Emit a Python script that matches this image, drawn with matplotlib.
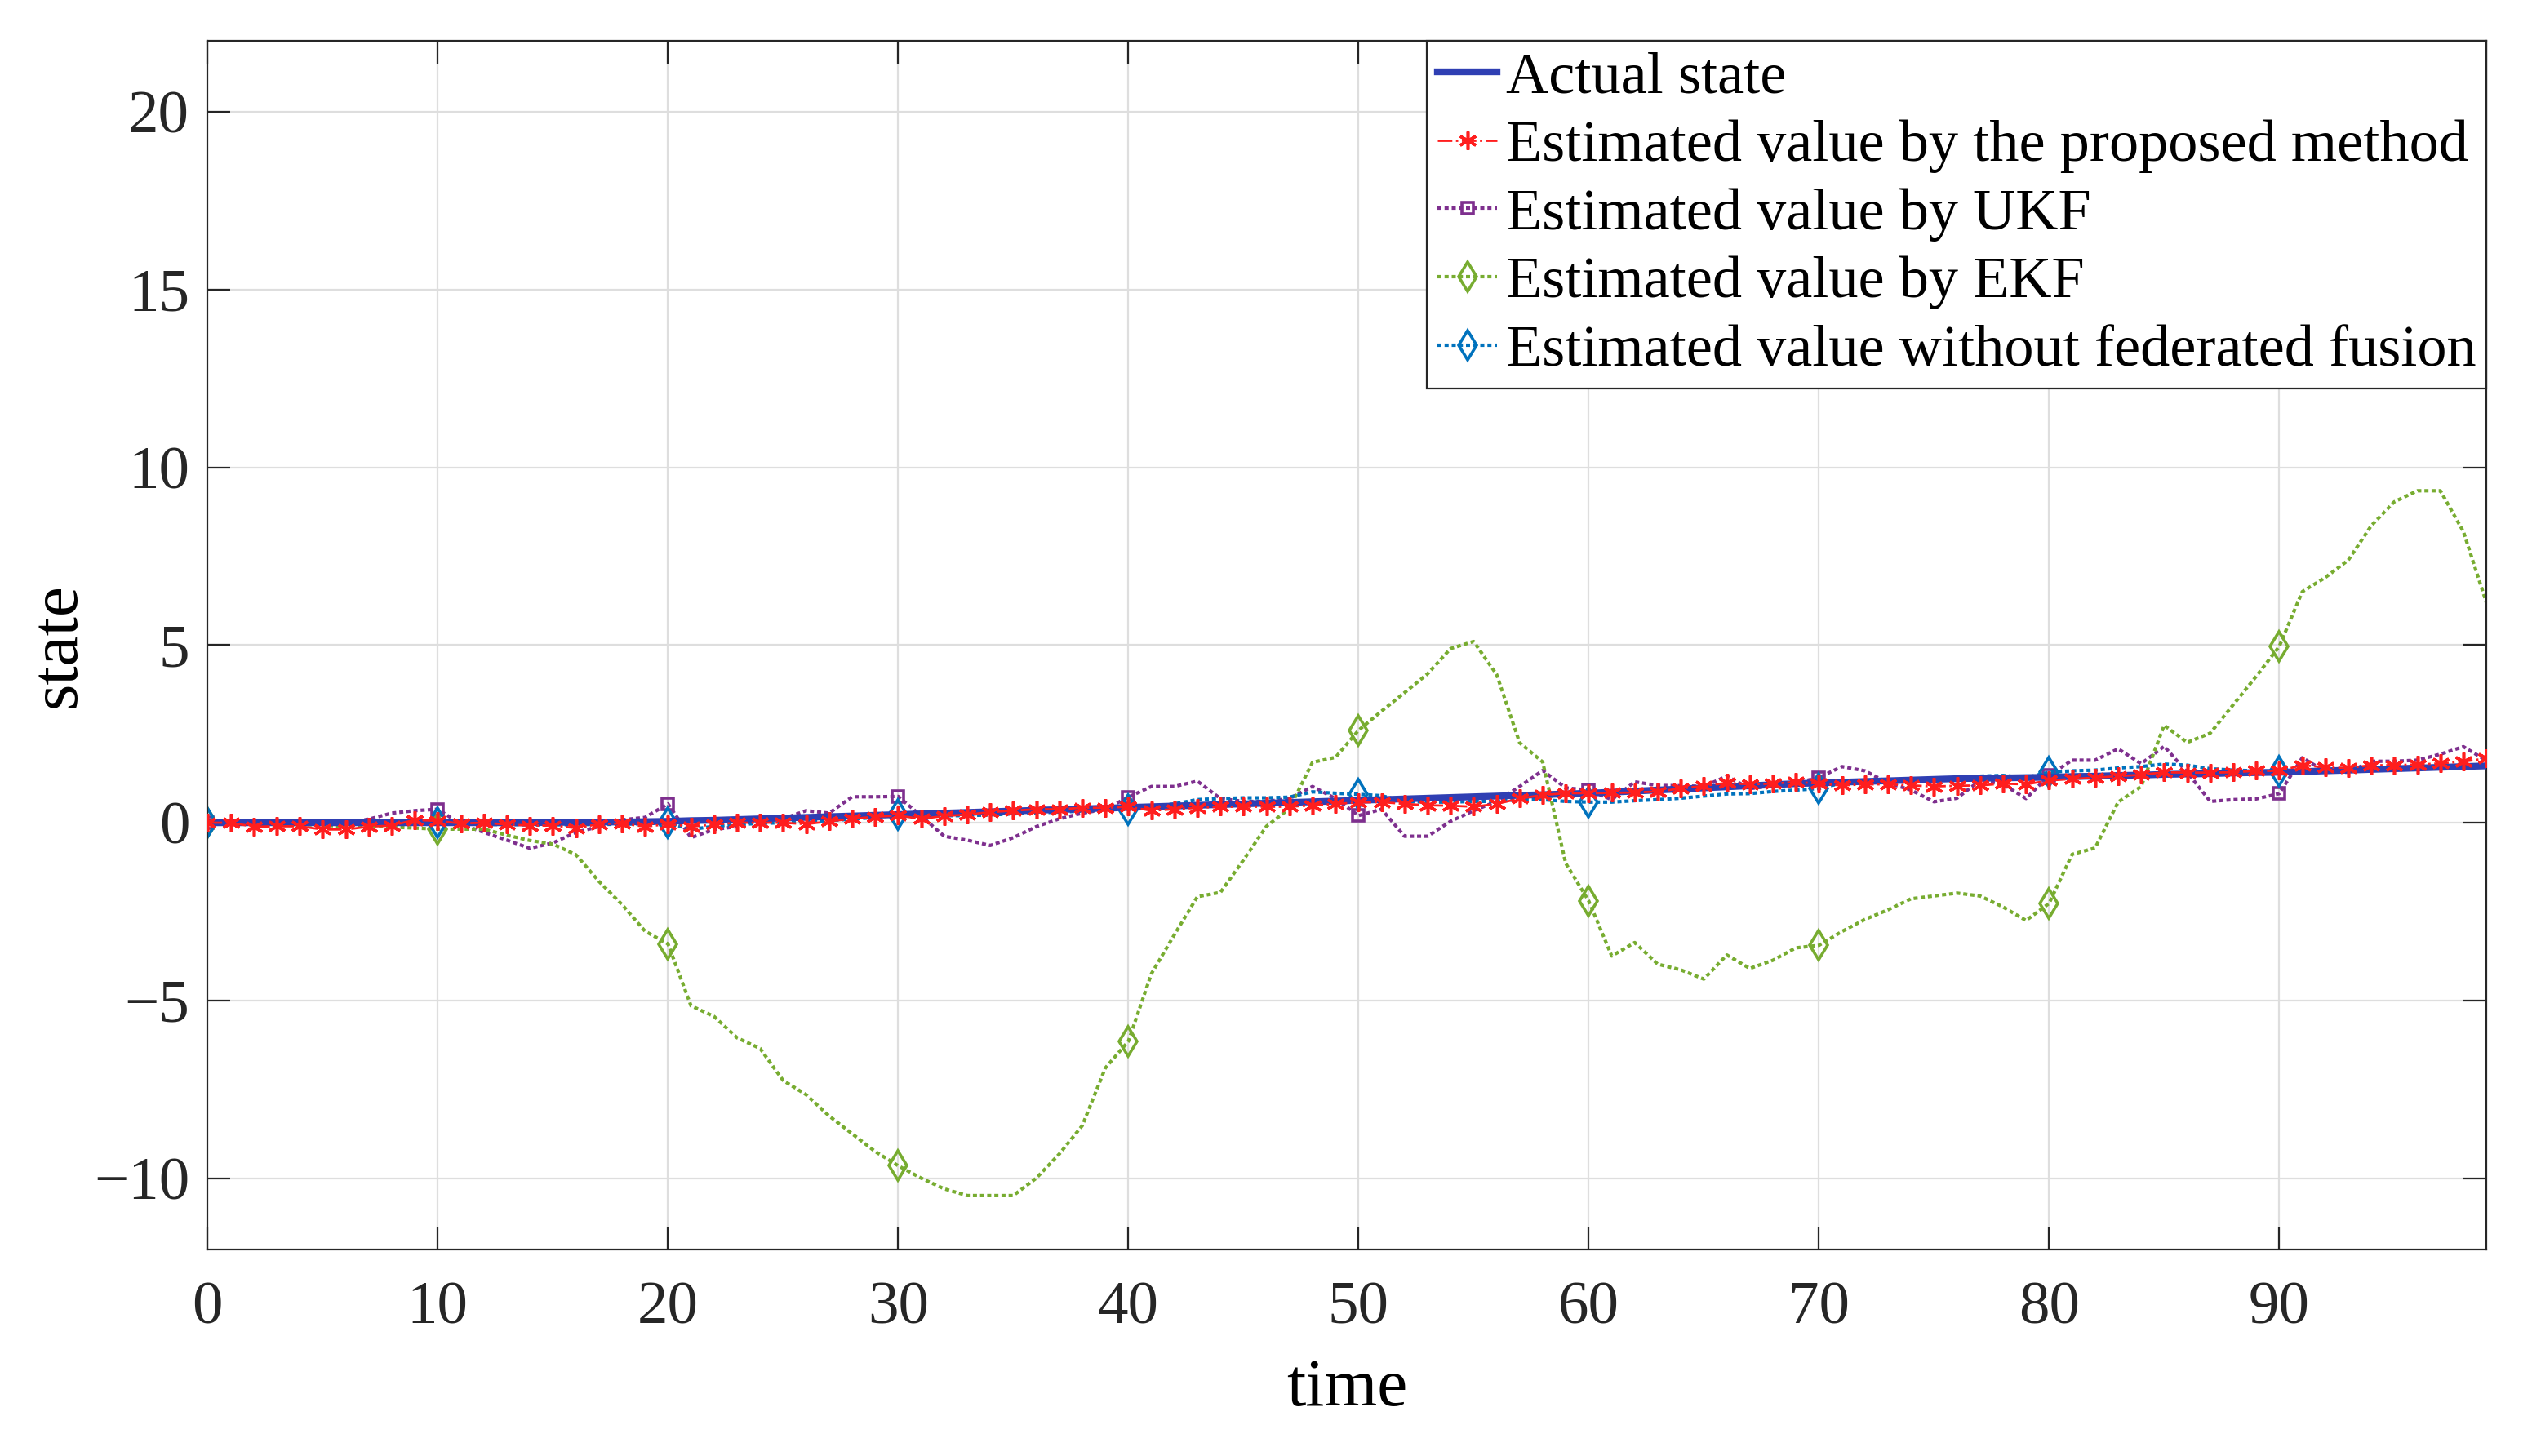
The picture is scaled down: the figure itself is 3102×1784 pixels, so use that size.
import matplotlib
matplotlib.use("Agg")
import matplotlib.pyplot as plt
import numpy as np

plt.rcParams['font.family'] = ['Liberation Serif', 'DejaVu Serif']

time = np.arange(100)

actual = [0, 0, 0, 0, 0, 0, 0, 0, 0, 0,
          0, 0, 0, 0, 0, 0.01, 0.01, 0.02, 0.02, 0.03,
          0.04, 0.06, 0.07, 0.09, 0.11, 0.13, 0.15, 0.17, 0.19, 0.21,
          0.23, 0.25, 0.27, 0.29, 0.31, 0.33, 0.35, 0.37, 0.39, 0.41,
          0.43, 0.45, 0.47, 0.49, 0.51, 0.53, 0.55, 0.57, 0.59, 0.61,
          0.63, 0.65, 0.67, 0.69, 0.71, 0.73, 0.75, 0.77, 0.79, 0.81,
          0.83, 0.86, 0.89, 0.92, 0.95, 0.98, 1.01, 1.04, 1.07, 1.10,
          1.12, 1.14, 1.16, 1.18, 1.20, 1.22, 1.24, 1.25, 1.26, 1.27,
          1.28, 1.30, 1.31, 1.33, 1.34, 1.36, 1.37, 1.38, 1.40, 1.41,
          1.42, 1.44, 1.46, 1.48, 1.50, 1.52, 1.54, 1.56, 1.58, 1.60]

proposed = [0, 0, -0.11, -0.1, -0.1, -0.19, -0.19, -0.11, -0.08, 0.08,
            0.05, -0.02, 0, -0.05, -0.08, -0.08, -0.15, -0.04, -0.02, -0.11,
            -0.04, -0.11, -0.05, 0, 0, 0, -0.04, 0.04, 0.11, 0.17,
            0.2, 0.11, 0.19, 0.23, 0.3, 0.34, 0.38, 0.38, 0.42, 0.42,
            0.45, 0.34, 0.38, 0.42, 0.45, 0.45, 0.45, 0.45, 0.49, 0.53,
            0.57, 0.58, 0.53, 0.49, 0.48, 0.45, 0.53, 0.68, 0.78, 0.83,
            0.83, 0.84, 0.85, 0.88, 0.96, 1.04, 1.12, 1.08, 1.1, 1.15,
            1.1, 1.05, 1.08, 1.08, 1.05, 1.02, 1.04, 1.05, 1.1, 1.08,
            1.19, 1.23, 1.27, 1.31, 1.35, 1.42, 1.41, 1.41, 1.42, 1.46,
            1.46, 1.62, 1.56, 1.54, 1.62, 1.62, 1.64, 1.67, 1.72, 1.81]

ukf = [0, 0, 0, 0, 0.05, 0.02, 0.0, 0.1, 0.27, 0.34,
       0.38, -0.04, -0.27, -0.49, -0.72, -0.57, -0.27, -0.11, 0.08, 0.15,
       0.53, -0.42, -0.19, -0.11, 0.11, 0.11, 0.34, 0.27, 0.73, 0.73,
       0.74, 0.19, -0.38, -0.49, -0.64, -0.42, -0.11, 0.11, 0.27, 0.38,
       0.72, 1.02, 1.02, 1.17, 0.68, 0.6, 0.6, 0.68, 1.02, 0.68,
       0.2, 0.38, -0.38, -0.38, 0.04, 0.34, 0.6, 1.02, 1.47, 0.98,
       0.92, 0.65, 1.15, 1.05, 1.04, 1.02, 1.31, 0.96, 1.04, 1.12,
       1.27, 1.58, 1.46, 1.12, 0.92, 0.59, 0.69, 1.19, 1.08, 0.68,
       1.33, 1.76, 1.76, 2.08, 1.66, 2.15, 1.42, 0.6, 0.65, 0.67,
       0.82, 1.83, 1.44, 1.42, 1.73, 1.73, 1.76, 1.93, 2.14, 1.75]

ekf = [0, -0.02, -0.03, -0.05, -0.05, -0.07, -0.1, -0.1, -0.12, -0.15,
       -0.18, -0.18, -0.18, -0.35, -0.5, -0.6, -0.9, -1.65, -2.3, -3.05,
       -3.41, -5.15, -5.45, -6.05, -6.35, -7.25, -7.65, -8.25, -8.75, -9.25,
       -9.65, -10.0, -10.3, -10.49, -10.49, -10.49, -10.0, -9.32, -8.52, -6.9,
       -6.15, -4.25, -3.15, -2.08, -1.96, -1.05, -0.1, 0.4, 1.7, 1.84,
       2.6, 3.14, 3.66, 4.19, 4.9, 5.1, 4.17, 2.25, 1.71, -1.14,
       -2.2, -3.75, -3.37, -3.98, -4.14, -4.4, -3.72, -4.1, -3.87, -3.52,
       -3.45, -3.06, -2.72, -2.45, -2.14, -2.06, -1.98, -2.06, -2.37, -2.75,
       -2.27, -0.89, -0.71, 0.58, 1.02, 2.74, 2.26, 2.52, 3.32, 4.12,
       4.96, 6.5, 6.9, 7.39, 8.36, 9.03, 9.34, 9.34, 8.19, 6.19]

no_fusion = [0, 0, 0, 0, 0.05, 0.02, 0, -0.02, -0.03, -0.03,
             0, -0.03, -0.05, -0.05, -0.06, -0.06, -0.05, -0.05, -0.04, -0.03,
             0, -0.19, -0.1, -0.05, -0.02, 0, 0.03, 0.06, 0.1, 0.15,
             0.23, 0.19, 0.2, 0.2, 0.22, 0.25, 0.28, 0.3, 0.33, 0.36,
             0.38, 0.45, 0.53, 0.65, 0.68, 0.7, 0.7, 0.72, 0.87, 0.83,
             0.8, 0.76, 0.6, 0.58, 0.58, 0.6, 0.6, 0.65, 0.65, 0.6,
             0.58, 0.58, 0.62, 0.65, 0.69, 0.75, 0.81, 0.82, 0.88, 0.92,
             0.96, 1.12, 1.19, 1.21, 1.2, 1.19, 1.27, 1.31, 1.33, 1.27,
             1.42, 1.46, 1.48, 1.54, 1.58, 1.65, 1.62, 1.52, 1.48, 1.46,
             1.44, 1.46, 1.48, 1.5, 1.52, 1.54, 1.56, 1.58, 1.6, 1.62]

labels = ["Actual state",
          "Estimated value by the proposed method",
          "Estimated value by UKF",
          "Estimated value by EKF",
          "Estimated value without federated fusion"]

fig = plt.figure(figsize=(15.51, 8.92), dpi=200)
ax = fig.add_axes([0.082, 0.142, 0.9, 0.83])

dots = (0, (1.2, 0.9))
ax.plot(time, actual, color='#2F3FB3', lw=3, label=labels[0], zorder=3)
ax.plot(time, proposed, color='#FF1E1E', lw=1.0, ls='-.', marker=(6, 2, 0),
        ms=8, mew=1.3, label=labels[1], zorder=4)
ax.plot(time, ukf, color='#7E2F8E', lw=1.5, ls=dots, marker='s', ms=5,
        mfc='none', mew=1.3, markevery=10, label=labels[2], zorder=2)
ax.plot(time, ekf, color='#77AC30', lw=1.5, ls=dots, marker='d', ms=9,
        mfc='none', mew=1.3, markevery=10, label=labels[3], zorder=2)
ax.plot(time, no_fusion, color='#0072BD', lw=1.5, ls=dots, marker='d', ms=9,
        mfc='none', mew=1.3, markevery=10, label=labels[4], zorder=2)

ax.set_xlim(0, 99)
ax.set_ylim(-12, 22)
ax.set_xticks(np.arange(0, 100, 10))
ax.set_yticks(np.arange(-10, 21, 5))
ax.grid(True, color='#DEDEDE', lw=0.8)
ax.set_axisbelow(True)
ax.tick_params(direction='in', length=10, width=0.8, top=True, right=True,
               labelsize=27, colors='#262626')
ax.tick_params(axis='x', pad=14)
ax.tick_params(axis='y', pad=8)
for s in ax.spines.values():
    s.set_color('#262626')
    s.set_linewidth(0.8)

ax.set_xlabel("time", fontsize=30, labelpad=10)
ax.set_ylabel("state", fontsize=30, labelpad=2)

leg = ax.legend(loc='upper right', bbox_to_anchor=(1, 1), borderaxespad=0,
                fontsize=26, handlelength=1.0, handletextpad=0.15,
                labelspacing=0.25, borderpad=0.18, fancybox=False,
                framealpha=1, edgecolor='#262626')
leg.get_frame().set_linewidth(0.8)

fig.savefig("out.png", dpi=200)
